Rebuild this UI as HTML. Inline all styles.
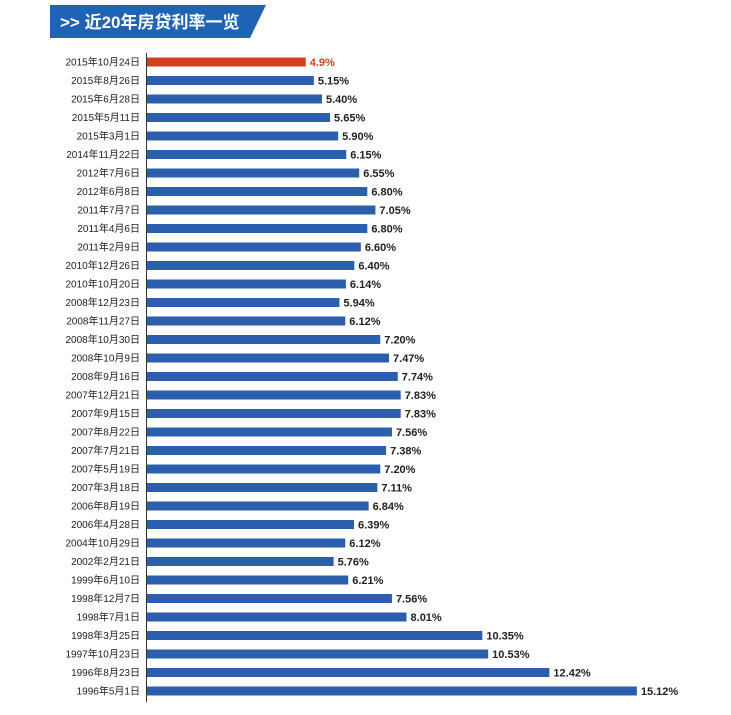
<!DOCTYPE html>
<html><head><meta charset="utf-8"><style>
html,body{margin:0;padding:0;background:#fff;}
body{width:731px;height:710px;overflow:hidden;position:relative;font-family:"Liberation Sans","Noto Sans CJK SC",sans-serif;}
</style></head><body>
<svg id="chart" width="731" height="710" xmlns="http://www.w3.org/2000/svg">
<polygon points="50,5 266,5 250,38 50,38" fill="#1f63b4"/>
<text x="60" y="28" fill="#fff" font-size="17" font-weight="bold" font-family="Liberation Sans,Noto Sans CJK SC,sans-serif">&gt;&gt; 近20年房贷利率一览</text>
<line x1="146.5" y1="53" x2="146.5" y2="702" stroke="#333" stroke-width="1"/>
<g id="bars"></g>
</svg>
<script>
const categories=["2015年10月24日","2015年8月26日","2015年6月28日","2015年5月11日","2015年3月1日","2014年11月22日","2012年7月6日","2012年6月8日","2011年7月7日","2011年4月6日","2011年2月9日","2010年12月26日","2010年10月20日","2008年12月23日","2008年11月27日","2008年10月30日","2008年10月9日","2008年9月16日","2007年12月21日","2007年9月15日","2007年8月22日","2007年7月21日","2007年5月19日","2007年3月18日","2006年8月19日","2006年4月28日","2004年10月29日","2002年2月21日","1999年6月10日","1998年12月7日","1998年7月1日","1998年3月25日","1997年10月23日","1996年8月23日","1996年5月1日"];
const values=[4.9,5.15,5.40,5.65,5.90,6.15,6.55,6.80,7.05,6.80,6.60,6.40,6.14,5.94,6.12,7.20,7.47,7.74,7.83,7.83,7.56,7.38,7.20,7.11,6.84,6.39,6.12,5.76,6.21,7.56,8.01,10.35,10.53,12.42,15.12];
const valueLabels=["4.9%","5.15%","5.40%","5.65%","5.90%","6.15%","6.55%","6.80%","7.05%","6.80%","6.60%","6.40%","6.14%","5.94%","6.12%","7.20%","7.47%","7.74%","7.83%","7.83%","7.56%","7.38%","7.20%","7.11%","6.84%","6.39%","6.12%","5.76%","6.21%","7.56%","8.01%","10.35%","10.53%","12.42%","15.12%"];
const NS="http://www.w3.org/2000/svg";
const x=v=>147+v*32.4;
const y=i=>62+i*18.5;
const g=document.getElementById('bars');
categories.forEach((c,i)=>{
  const r=document.createElementNS(NS,'rect');
  
  
  r.setAttribute('x',147);r.setAttribute('y',y(i)-4.5);
  r.setAttribute('width',x(values[i])-147);r.setAttribute('height',9);
  r.setAttribute('fill',i===0?'#d4401f':'#2b5fae');
  g.appendChild(r);
  const t=document.createElementNS(NS,'text');
  
  
  t.setAttribute('x',140);t.setAttribute('y',y(i)+3.5);
  t.setAttribute('text-anchor','end');t.setAttribute('font-size','10');t.setAttribute('fill','#222');
  t.textContent=c;g.appendChild(t);
  const v=document.createElementNS(NS,'text');
  
  
  v.setAttribute('x',x(values[i])+4);v.setAttribute('y',y(i)+4);
  v.setAttribute('font-size','11');v.setAttribute('font-weight','bold');
  v.setAttribute('fill',i===0?'#d4401f':'#222');
  v.textContent=valueLabels[i];g.appendChild(v);
});
</script>
</body></html>
